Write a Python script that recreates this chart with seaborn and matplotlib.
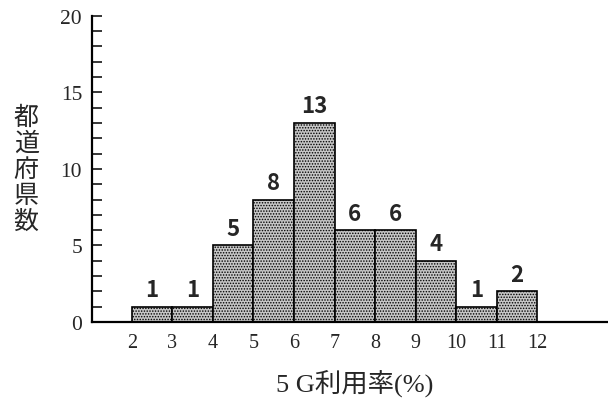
import numpy as np
import seaborn as sns
import matplotlib.pyplot as plt
from matplotlib.ticker import MultipleLocator

# 5G usage rate (%) bins and number of prefectures in each bin
bin_edges = [2, 3, 4, 5, 6, 7, 8, 9, 10, 11, 12]
counts = [1, 1, 5, 8, 13, 6, 6, 4, 1, 2]
x_label = "5 G利用率(%)"
y_label = "都道府県数"

sns.set_style("white")
plt.rcParams["font.family"] = ["Liberation Serif", "Noto Sans CJK JP"]
plt.rcParams["hatch.color"] = "#6a6a6a"
plt.rcParams["hatch.linewidth"] = 0.7

midpoints = [(a + b) / 2 for a, b in zip(bin_edges[:-1], bin_edges[1:])]

fig = plt.figure(figsize=(6.08, 4.02), dpi=100)
ax = fig.add_axes([0.151, 0.1965, 0.849, 0.7615])

sns.histplot(x=midpoints, weights=counts, bins=bin_edges, ax=ax,
             color="#c6c6c6", alpha=1, edgecolor="black", linewidth=1.2,
             hatch="......")

# count labels over the bars
for patch, c in zip(ax.patches, counts):
    ax.annotate(str(c), (patch.get_x() + patch.get_width() / 2, patch.get_height()),
                xytext=(0, 4), textcoords="offset points", ha="center", va="bottom",
                fontsize=16, fontweight="bold", family=["Noto Sans CJK JP"])

ax.set_xlim(1.01, 13.75)
ax.set_ylim(0, 20)
ax.set_xticks(bin_edges)
ax.set_xticklabels([str(v) for v in bin_edges])
ax.yaxis.set_major_locator(MultipleLocator(5))
ax.yaxis.set_minor_locator(MultipleLocator(1))
ax.tick_params(axis="x", length=0, pad=8, labelsize=14.5)
ax.tick_params(axis="y", which="both", direction="in", length=7, width=1.3,
               pad=7, labelsize=15.5, left=True)
ax.set_xlabel("")
ax.set_ylabel("")

for side in ["top", "right"]:
    ax.spines[side].set_visible(False)
for side in ["left", "bottom"]:
    ax.spines[side].set_linewidth(1.6)
    ax.spines[side].set_color("black")

fig.text(0.584, 0.047, x_label, ha="center", va="center", fontsize=19)
fig.text(0.043, 0.577, "\n".join(y_label), ha="center", va="center",
         fontsize=18, linespacing=1.0, family=["Noto Sans CJK JP"])

fig.savefig("out.png", dpi=100, facecolor="white")
